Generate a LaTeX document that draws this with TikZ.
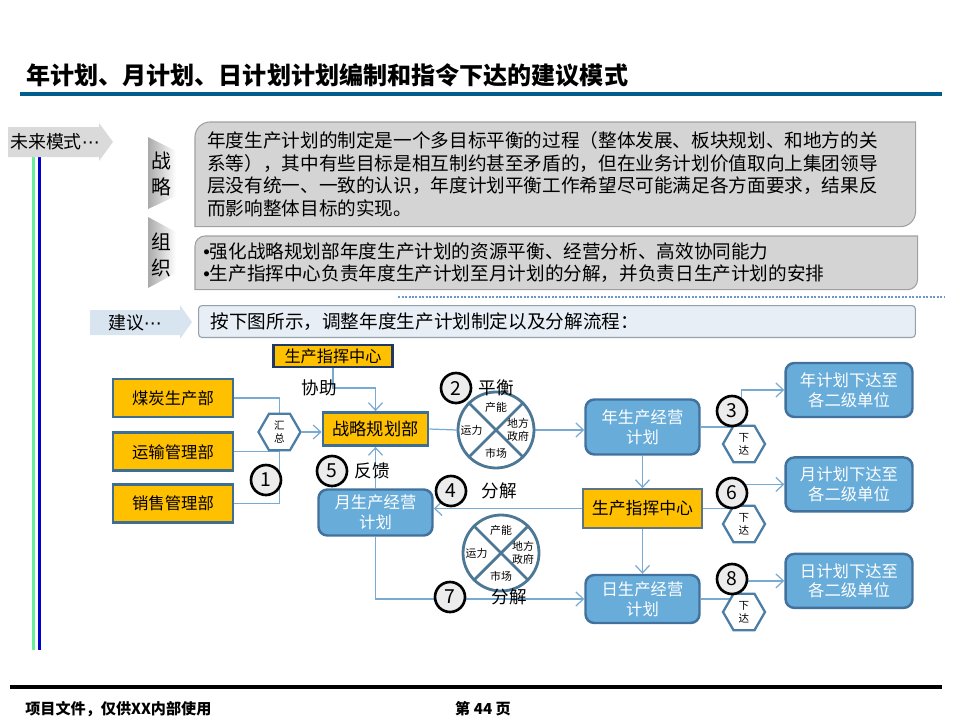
\documentclass[tikz,border=0pt]{standalone}
\usepackage{fontspec}
\setmainfont{Noto Sans CJK SC}
\newfontfamily\bulletfont{Liberation Sans}
\newfontfamily\dotsfont{DejaVu Sans}
\usetikzlibrary{positioning,arrows.meta,calc,shapes.geometric,backgrounds}

\definecolor{orgfill}{RGB}{255,192,0}
\definecolor{deptline}{RGB}{62,110,145}
\definecolor{navyline}{RGB}{31,56,100}
\definecolor{cmdline}{RGB}{95,115,135}
\definecolor{planfill}{RGB}{104,172,218}
\definecolor{planline}{RGB}{65,113,156}
\definecolor{hexline}{RGB}{75,125,165}
\definecolor{crossline}{RGB}{76,120,150}
\definecolor{linkblue}{RGB}{120,170,210}
\definecolor{numfill}{RGB}{236,236,236}
\definecolor{boxgray}{RGB}{212,212,212}
\definecolor{boxline}{RGB}{160,160,160}
\definecolor{advfill}{RGB}{231,238,245}
\definecolor{advline}{RGB}{150,160,170}
\definecolor{advarrow}{RGB}{216,228,240}
\definecolor{futuregray}{RGB}{218,218,218}
\definecolor{sidegray}{RGB}{170,170,170}
\definecolor{dotblue}{RGB}{110,150,205}
\definecolor{titleblue}{RGB}{0,94,140}
\definecolor{railgreen}{RGB}{102,238,153}
\definecolor{railblue}{RGB}{0,0,204}

\newcommand{\bul}{{\bulletfont •}}
\newcommand{\mdots}{{\dotsfont ⋯}}

\tikzset{
  pagetitle/.style = {font=\fontsize{13.7}{16}\selectfont\bfseries, inner sep=0pt},
  titlerule/.style = {draw=titleblue, line width=0.08cm},
  rail/.style      = {line width=0.06cm},
  sidetxt/.style   = {align=center, font=\fontsize{11.3}{14.7}\selectfont, inner sep=0pt},
  tiptxt/.style    = {font=\fontsize{10.2}{12}\selectfont, inner sep=0pt},
  infobox/.style   = {anchor=north west, align=left, inner ysep=0pt,
                      font=\fontsize{10.6}{13}\selectfont},
  tipbox/.style    = {fill=boxgray, draw=boxline, line width=0.6pt},
  dotrule/.style   = {draw=dotblue, line width=0.05cm, dash pattern=on 0.04cm off 0.03cm},
  dept/.style      = {draw=deptline, line width=1.6pt, fill=orgfill,
                      minimum width=2.4cm, minimum height=0.76cm, inner sep=1pt,
                      font=\fontsize{9.3}{11}\selectfont},
  stratbox/.style  = {dept, minimum width=2.1cm, minimum height=0.66cm,
                      font=\fontsize{9.8}{11}\selectfont},
  cmdtop/.style    = {draw=navyline, line width=1.3pt, fill=orgfill,
                      minimum width=2.38cm, minimum height=0.44cm, inner sep=0pt,
                      font=\fontsize{9.2}{11}\selectfont},
  cmdbox/.style    = {draw=cmdline, line width=1pt, fill=orgfill,
                      minimum width=2.38cm, minimum height=0.78cm, inner sep=0pt,
                      font=\fontsize{9.6}{11}\selectfont},
  plan/.style      = {draw=planline, line width=1.4pt, fill=planfill, rounded corners=5pt,
                      text=white, align=center, minimum width=2.28cm, minimum height=1.1cm,
                      inner sep=1pt, font=\fontsize{9.3}{11.3}\selectfont},
  issue/.style     = {plan, minimum width=2.54cm, minimum height=1.08cm},
  hexa/.style      = {regular polygon, regular polygon sides=6, draw=hexline,
                      line width=1.3pt, fill=white, minimum size=0.84cm, inner sep=0pt,
                      align=center, font=\fontsize{6}{7.5}\selectfont},
  num/.style       = {circle, draw=black, line width=1.5pt, fill=numfill,
                      minimum size=0.6cm, inner sep=0pt, font=\fontsize{11}{12}\selectfont},
  cross/.style     = {circle, draw=crossline, line width=1.6pt, fill=white,
                      minimum size=1.52cm, inner sep=0pt},
  xline/.style     = {draw=crossline, line width=1.6pt},
  tag/.style       = {align=center, inner sep=0pt, font=\fontsize{6.2}{7.4}\selectfont},
  lbl/.style       = {inner sep=0pt, font=\fontsize{10}{12}\selectfont},
  link/.style      = {draw=linkblue, line width=0.7pt},
  flow/.style      = {link, -{Straight Barb[length=1.5mm,width=2.8mm]}},
  footer/.style    = {inner sep=0pt, font=\fontsize{8.6}{10}\selectfont\bfseries}
}

\begin{document}
\begin{tikzpicture}[x=0.02cm, y=-0.02cm]
  \useasboundingbox (0,0) rectangle (960,720);

  % Title and rule.
  \node[pagetitle, anchor=west] (title) at (26,75)
    {年计划、月计划、日计划计划编制和指令下达的建议模式};
  \draw[titlerule] (20,94) -- (942,94);

  % Left rail.
  \draw[rail, draw=railgreen] (33,157) -- (33,650);
  \draw[rail, draw=railblue]  (39,153) -- (39,650);

  % Future mode tab.
  \fill[futuregray] (8,127) -- (99,127) -- (99,123) -- (113,142) -- (99,161)
    -- (99,157) -- (8,157) -- cycle;
  \node[tiptxt] (future) at (55,142) {未来模式\mdots};

  % Side tabs.
  \shade[left color=sidegray, right color=white]
    (148,137) -- (176,151) -- (176,196) -- (148,209) -- cycle;
  \node[sidetxt] (sidestrat) at (161,174) {战\\略};
  \shade[left color=sidegray, right color=white]
    (148,217) -- (176,232) -- (176,273) -- (148,288) -- cycle;
  \node[sidetxt] (sideorg) at (161,255) {组\\织};

  % Text boxes.
  \node[infobox, text width=13.92cm, inner xsep=0.24cm, minimum height=2.08cm]
    (strattxt) at (195,122) {%
    年度生产计划的制定是一个多目标平衡的过程（整体发展、板块规划、和地方的关\\
    系等），其中有些目标是相互制约甚至矛盾的，但在业务计划价值取向上集团领导\\
    层没有统一、一致的认识，年度计划平衡工作希望尽可能满足各方面要求，结果反\\
    而影响整体目标的实现。};
  \node[infobox, text width=14.12cm, inner xsep=0.16cm, minimum height=1.06cm,
        font=\fontsize{10.6}{12.5}\selectfont]
    (orgtxt) at (195,236) {%
    \bul 强化战略规划部年度生产计划的资源平衡、经营分析、高效协同能力\\
    \bul 生产指挥中心负责年度生产计划至月计划的分解，并负责日生产计划的安排};
  \begin{scope}[on background layer]
    \filldraw[tipbox] (strattxt.south west) [rounded corners=0.3cm] -- (strattxt.north west)
      [sharp corners] -- (strattxt.north east) [rounded corners=0.3cm]
      -- (strattxt.south east) [sharp corners] -- cycle;
    \filldraw[tipbox] (orgtxt.south west) [rounded corners=0.2cm] -- (orgtxt.north west)
      [sharp corners] -- (orgtxt.north east) [rounded corners=0.2cm]
      -- (orgtxt.south east) [sharp corners] -- cycle;
  \end{scope}

  \draw[dotrule] (398,297) -- (945,297);

  % Advice tab and box.
  \fill[advarrow] (90,310) -- (180,310) -- (180,305) -- (192,322) -- (180,339)
    -- (180,335) -- (90,335) -- cycle;
  \node[tiptxt] (advice) at (135,323) {建议\mdots};
  \node[infobox, text width=13.86cm, inner xsep=0.24cm, minimum height=0.64cm,
        fill=advfill, draw=advline, line width=0.6pt, rounded corners=2pt]
    (advtxt) at (198,305) {按下图所示，调整年度生产计划制定以及分解流程：};

  % Departments and summary.
  \node[dept] (coal) at (173,398) {煤炭生产部};
  \node[dept, below=0.26cm of coal]  (trans) {运输管理部};
  \node[dept, below=0.22cm of trans] (sales) {销售管理部};
  \node[hexa] (sum) at (279.5,432) {汇\\总};

  \node[cmdtop]   (cmdtop) at (333,356) {生产指挥中心};
  \node[stratbox] (strat)  at (375.5,429) {战略规划部};
  \node[lbl]      (assist) at (319,388) {协助};

  % Balance circles.
  \node[cross] (bal1) at (496,430) {};
  \draw[xline] (bal1.north west) -- (bal1.south east);
  \draw[xline] (bal1.north east) -- (bal1.south west);
  \node[tag] (bal1n) at ($(bal1)!0.57!(bal1.north)$) {产能};
  \node[tag] (bal1w) at ($(bal1)!0.62!(bal1.west)$)  {运力};
  \node[tag] (bal1e) at ($(bal1)!0.56!(bal1.east)$)  {地方\\政府};
  \node[tag] (bal1s) at ($(bal1)!0.6!(bal1.south)$)  {市场};

  \node[cross] (bal2) at (501,553) {};
  \draw[xline] (bal2.north west) -- (bal2.south east);
  \draw[xline] (bal2.north east) -- (bal2.south west);
  \node[tag] (bal2n) at ($(bal2)!0.57!(bal2.north)$) {产能};
  \node[tag] (bal2w) at ($(bal2)!0.62!(bal2.west)$)  {运力};
  \node[tag] (bal2e) at ($(bal2)!0.56!(bal2.east)$)  {地方\\政府};
  \node[tag] (bal2s) at ($(bal2)!0.6!(bal2.south)$)  {市场};

  % Plans.
  \node[plan]   (yplan) at (642.5,427) {年生产经营\\计划};
  \node[cmdbox] (cmd)   at (642.5,508.5) {生产指挥中心};
  \node[plan, minimum height=0.96cm] (dplan) at (642.5,599) {日生产经营\\计划};
  \node[plan, minimum height=0.92cm] (mplan) at (375.5,512.5) {月生产经营\\计划};

  % Issue boxes.
  \node[issue] (yiss) at (849,390) {年计划下达至\\各二级单位};
  \node[issue, below=0.76cm of yiss] (miss) {月计划下达至\\各二级单位};
  \node[issue, below=0.8cm of miss]  (diss) {日计划下达至\\各二级单位};
  \node[hexa] (rel1) at (744,444) {下\\达};
  \node[hexa] (rel2) at (744,524) {下\\达};
  \node[hexa] (rel3) at (744,612) {下\\达};

  % Connectors.
  \begin{scope}[on background layer]
    \draw[link] (coal.east) -| (sum.north);
    \draw[link] (sales.east) -| (sum.south);
    \draw[link] (trans.east) -- (trans.east -| sum.center);
    \draw[flow] (sum.east) -- (sum.east -| strat.west);
    \draw[flow] (cmdtop.south) |- ($(strat.north)+(0,-23)$) -- (strat.north);
    \draw[link] (strat.east) -- (bal1.west);
    \draw[flow] (bal1.east) -- (bal1.east -| yplan.west);
    \draw[flow] (yplan.south) -- (cmd.north);
    \draw[flow] (cmd.south) -- (dplan.north);
    \draw[flow] (cmd.west) -- (cmd.west -| mplan.east);
    \draw[flow] (mplan.north) -- (strat.south);
    \draw[flow] (mplan.south) |- (dplan.west);
    \draw[flow] (yplan.east) -| ($(yiss.west)+(-43,0)$) -- (yiss.west);
    \draw[flow] (cmd.east)   -| ($(miss.west)+(-41,0)$) -- (miss.west);
    \draw[flow] (dplan.east) -| ($(diss.west)+(-43,0)$) -- (diss.west);
  \end{scope}

  % Step numbers and labels.
  \node[num] (n1) at (266,480) {1};
  \node[num] (n2) at (456,388) {2};
  \node[lbl, right=0.12cm of n2] (balance) {平衡};
  \node[num] (n3) at (732,411) {3};
  \node[num] (n4) at (451,491) {4};
  \node[lbl, right=0.28cm of n4] (split1) {分解};
  \node[num] (n5) at (332,471) {5};
  \node[lbl, right=0.12cm of n5] (feedback) {反馈};
  \node[num] (n6) at (732,493) {6};
  \node[num] (n7) at (450,597) {7};
  \node[lbl, right=0.5cm of n7] (split2) {分解};
  \node[num] (n8) at (732,579) {8};

  % Footer.
  \draw[line width=0.08cm] (10,687) -- (942,687);
  \node[footer, anchor=west] (docnote) at (25,709) {项目文件，仅供XX内部使用};
  \node[footer] (pageno) at (483,709) {第 44 页};
\end{tikzpicture}
\end{document}
